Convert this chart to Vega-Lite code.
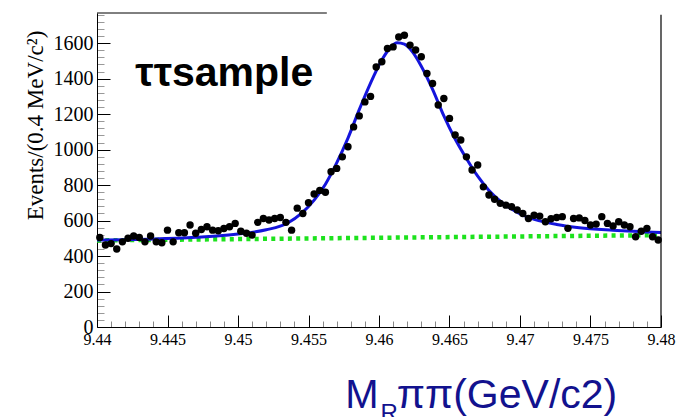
{
  "$schema": "https://vega.github.io/schema/vega-lite/v6.json",
  "width": 564,
  "height": 314,
  "autosize": {"type": "none"},
  "padding": {"left": 97, "top": 13, "right": 24, "bottom": 90},
  "background": "white",
  "config": {
    "view": {"stroke": null},
    "axis": {"grid": false, "labelFont": "Liberation Serif", "titleFont": "Liberation Serif", "labelColor": "black", "domainColor": "black", "tickColor": "black", "labelFlush": false, "labelOverlap": false}
  },
  "datasets": {
    "hist": [
      {"x": 9.4402, "y": 505}, {"x": 9.4406, "y": 462}, {"x": 9.4410, "y": 470}, {"x": 9.4414, "y": 440}, {"x": 9.4418, "y": 480},
      {"x": 9.4422, "y": 500}, {"x": 9.4426, "y": 513}, {"x": 9.4430, "y": 505}, {"x": 9.4434, "y": 480}, {"x": 9.4438, "y": 513},
      {"x": 9.4442, "y": 480}, {"x": 9.4446, "y": 475}, {"x": 9.4450, "y": 546}, {"x": 9.4454, "y": 480}, {"x": 9.4458, "y": 531},
      {"x": 9.4462, "y": 531}, {"x": 9.4466, "y": 575}, {"x": 9.4470, "y": 528}, {"x": 9.4474, "y": 550}, {"x": 9.4478, "y": 565},
      {"x": 9.4482, "y": 546}, {"x": 9.4486, "y": 543}, {"x": 9.4490, "y": 555}, {"x": 9.4494, "y": 565}, {"x": 9.4498, "y": 584},
      {"x": 9.4502, "y": 540}, {"x": 9.4506, "y": 528}, {"x": 9.4510, "y": 518}, {"x": 9.4514, "y": 590}, {"x": 9.4518, "y": 612},
      {"x": 9.4522, "y": 603}, {"x": 9.4526, "y": 612}, {"x": 9.4530, "y": 617}, {"x": 9.4534, "y": 590}, {"x": 9.4538, "y": 546},
      {"x": 9.4542, "y": 670}, {"x": 9.4546, "y": 640}, {"x": 9.4550, "y": 700}, {"x": 9.4554, "y": 750}, {"x": 9.4558, "y": 770},
      {"x": 9.4562, "y": 760}, {"x": 9.4566, "y": 875}, {"x": 9.4570, "y": 894}, {"x": 9.4574, "y": 959}, {"x": 9.4578, "y": 1016},
      {"x": 9.4582, "y": 1128}, {"x": 9.4586, "y": 1190}, {"x": 9.4590, "y": 1269}, {"x": 9.4594, "y": 1300}, {"x": 9.4598, "y": 1466},
      {"x": 9.4602, "y": 1495}, {"x": 9.4606, "y": 1570}, {"x": 9.4610, "y": 1579}, {"x": 9.4614, "y": 1635}, {"x": 9.4618, "y": 1645},
      {"x": 9.4622, "y": 1589}, {"x": 9.4626, "y": 1561}, {"x": 9.4630, "y": 1523}, {"x": 9.4634, "y": 1429}, {"x": 9.4638, "y": 1373},
      {"x": 9.4642, "y": 1251}, {"x": 9.4646, "y": 1288}, {"x": 9.4650, "y": 1176}, {"x": 9.4654, "y": 1082}, {"x": 9.4658, "y": 1054},
      {"x": 9.4662, "y": 959}, {"x": 9.4666, "y": 885}, {"x": 9.4670, "y": 913}, {"x": 9.4674, "y": 790}, {"x": 9.4678, "y": 744},
      {"x": 9.4682, "y": 720}, {"x": 9.4686, "y": 697}, {"x": 9.4690, "y": 687}, {"x": 9.4694, "y": 678}, {"x": 9.4698, "y": 660},
      {"x": 9.4702, "y": 640}, {"x": 9.4706, "y": 612}, {"x": 9.4710, "y": 630}, {"x": 9.4714, "y": 625}, {"x": 9.4718, "y": 593},
      {"x": 9.4722, "y": 610}, {"x": 9.4726, "y": 617}, {"x": 9.4730, "y": 622}, {"x": 9.4734, "y": 556}, {"x": 9.4738, "y": 612},
      {"x": 9.4742, "y": 615}, {"x": 9.4746, "y": 600}, {"x": 9.4750, "y": 575}, {"x": 9.4754, "y": 580}, {"x": 9.4758, "y": 622},
      {"x": 9.4762, "y": 584}, {"x": 9.4766, "y": 570}, {"x": 9.4770, "y": 593}, {"x": 9.4774, "y": 575}, {"x": 9.4778, "y": 565},
      {"x": 9.4782, "y": 509}, {"x": 9.4786, "y": 540}, {"x": 9.4790, "y": 556}, {"x": 9.4794, "y": 509}, {"x": 9.4798, "y": 490}
    ],
    "fit": [
      {"x": 9.440, "y": 490}, {"x": 9.444, "y": 496}, {"x": 9.447, "y": 506}, {"x": 9.450, "y": 524}, {"x": 9.452, "y": 548},
      {"x": 9.4535, "y": 585}, {"x": 9.4545, "y": 640}, {"x": 9.4554, "y": 715}, {"x": 9.4562, "y": 805}, {"x": 9.4570, "y": 925},
      {"x": 9.4578, "y": 1065}, {"x": 9.4586, "y": 1225}, {"x": 9.4594, "y": 1375}, {"x": 9.4602, "y": 1505}, {"x": 9.4608, "y": 1575},
      {"x": 9.4613, "y": 1602}, {"x": 9.4618, "y": 1594}, {"x": 9.4624, "y": 1548}, {"x": 9.4630, "y": 1470}, {"x": 9.4638, "y": 1340},
      {"x": 9.4646, "y": 1190}, {"x": 9.4654, "y": 1060}, {"x": 9.4662, "y": 950}, {"x": 9.4670, "y": 850}, {"x": 9.4678, "y": 770},
      {"x": 9.4686, "y": 710}, {"x": 9.4694, "y": 665}, {"x": 9.4702, "y": 630}, {"x": 9.4714, "y": 598}, {"x": 9.4726, "y": 578},
      {"x": 9.4742, "y": 560}, {"x": 9.4766, "y": 546}, {"x": 9.480, "y": 533}
    ],
    "bg": [{"x": 9.44, "y": 488}, {"x": 9.48, "y": 518}],
    "one": [{}]
  },
  "resolve": {"axis": {"x": "independent", "y": "independent"}},
  "layer": [
    {
      "data": {"name": "bg"},
      "mark": {"type": "line", "color": "#1de21d", "strokeWidth": 4.5, "strokeDash": [4, 4.3]},
      "encoding": {
        "x": {"field": "x", "type": "quantitative", "scale": {"domain": [9.44, 9.48], "nice": false, "zero": false},
              "axis": {"orient": "bottom", "values": [9.441, 9.442, 9.443, 9.444, 9.446, 9.447, 9.448, 9.449, 9.451, 9.452, 9.453, 9.454, 9.456, 9.457, 9.458, 9.459, 9.461, 9.462, 9.463, 9.464, 9.466, 9.467, 9.468, 9.469, 9.471, 9.472, 9.473, 9.474, 9.476, 9.477, 9.478, 9.479], "labels": false, "domain": false, "tickSize": -6, "tickColor": "#888888", "title": null}},
        "y": {"field": "y", "type": "quantitative", "scale": {"domain": [0, 1770], "nice": false, "zero": true},
              "axis": {"orient": "left", "values": [40, 80, 120, 160, 240, 280, 320, 360, 440, 480, 520, 560, 640, 680, 720, 760, 840, 880, 920, 960, 1040, 1080, 1120, 1160, 1240, 1280, 1320, 1360, 1440, 1480, 1520, 1560, 1640, 1680, 1720, 1760], "labels": false, "domain": false, "tickSize": -7, "tickColor": "#999999", "title": null}}
      }
    },
    {
      "data": {"name": "fit"},
      "mark": {"type": "line", "color": "#1414dc", "strokeWidth": 3, "interpolate": "monotone"},
      "encoding": {
        "x": {"field": "x", "type": "quantitative", "scale": {"domain": [9.44, 9.48], "nice": false, "zero": false}, "axis": null},
        "y": {"field": "y", "type": "quantitative", "scale": {"domain": [0, 1770], "nice": false}, "axis": null}
      }
    },
    {
      "data": {"name": "hist"},
      "mark": {"type": "circle", "color": "black", "size": 55, "opacity": 1},
      "encoding": {
        "x": {"field": "x", "type": "quantitative", "scale": {"domain": [9.44, 9.48], "nice": false, "zero": false},
              "axis": {"orient": "bottom", "values": [9.44, 9.445, 9.45, 9.455, 9.46, 9.465, 9.47, 9.475, 9.48], "format": "~g", "labelFontSize": 16, "tickSize": -12, "labelPadding": 16, "title": null}},
        "y": {"field": "y", "type": "quantitative", "scale": {"domain": [0, 1770], "nice": false},
              "axis": {"orient": "left", "values": [0, 200, 400, 600, 800, 1000, 1200, 1400, 1600], "format": "d", "labelFontSize": 20, "tickSize": -13, "labelPadding": 17,
                       "title": "Events/(0.4 MeV/c²)", "titleFontSize": 23, "titleFontWeight": "normal", "titleX": -62, "titleY": 112, "titleAngle": -90, "titleAlign": "center", "titleBaseline": "middle"}}
      }
    },
    {
      "data": {"name": "one"},
      "mark": {"type": "rule", "color": "black", "strokeWidth": 1},
      "encoding": {
        "x": {"datum": 9.44, "type": "quantitative", "scale": {"domain": [9.44, 9.48], "nice": false, "zero": false}, "axis": null},
        "x2": {"datum": 9.4563},
        "y": {"datum": 1770, "type": "quantitative", "scale": {"domain": [0, 1770], "nice": false}, "axis": null}
      }
    },
    {
      "data": {"name": "one"},
      "mark": {"type": "rule", "color": "black", "strokeWidth": 1.2},
      "encoding": {
        "x": {"datum": 9.48, "type": "quantitative", "scale": {"domain": [9.44, 9.48], "nice": false, "zero": false}, "axis": null},
        "y": {"datum": 1760, "type": "quantitative", "scale": {"domain": [0, 1770], "nice": false}, "axis": null},
        "y2": {"datum": 0}
      }
    },
    {
      "data": {"name": "one"},
      "mark": {"type": "text", "text": "ττsample", "font": "Liberation Sans", "fontWeight": "bold", "fontSize": 41, "align": "left", "baseline": "alphabetic", "color": "black"},
      "encoding": {
        "x": {"datum": 9.44272, "type": "quantitative", "scale": {"domain": [9.44, 9.48], "nice": false, "zero": false}, "axis": null},
        "y": {"datum": 1360, "type": "quantitative", "scale": {"domain": [0, 1770], "nice": false}, "axis": null}
      }
    },
    {
      "data": {"name": "one"},
      "mark": {"type": "text", "text": "M", "font": "Liberation Sans", "fontSize": 40, "align": "left", "baseline": "alphabetic", "color": "#12128e"},
      "encoding": {
        "x": {"datum": 9.4576, "type": "quantitative", "scale": {"domain": [9.44, 9.48], "nice": false, "zero": false}, "axis": null},
        "y": {"datum": -456, "type": "quantitative", "scale": {"domain": [0, 1770], "nice": false}, "axis": null}
      }
    },
    {
      "data": {"name": "one"},
      "mark": {"type": "text", "text": "R", "font": "Liberation Sans", "fontSize": 24, "align": "left", "baseline": "alphabetic", "color": "#12128e"},
      "encoding": {
        "x": {"datum": 9.46010, "type": "quantitative", "scale": {"domain": [9.44, 9.48], "nice": false, "zero": false}, "axis": null},
        "y": {"datum": -528, "type": "quantitative", "scale": {"domain": [0, 1770], "nice": false}, "axis": null}
      }
    },
    {
      "data": {"name": "one"},
      "mark": {"type": "text", "text": "ππ(GeV/c2)", "font": "Liberation Sans", "fontSize": 41, "align": "left", "baseline": "alphabetic", "color": "#12128e"},
      "encoding": {
        "x": {"datum": 9.46125, "type": "quantitative", "scale": {"domain": [9.44, 9.48], "nice": false, "zero": false}, "axis": null},
        "y": {"datum": -456, "type": "quantitative", "scale": {"domain": [0, 1770], "nice": false}, "axis": null}
      }
    }
  ]
}
